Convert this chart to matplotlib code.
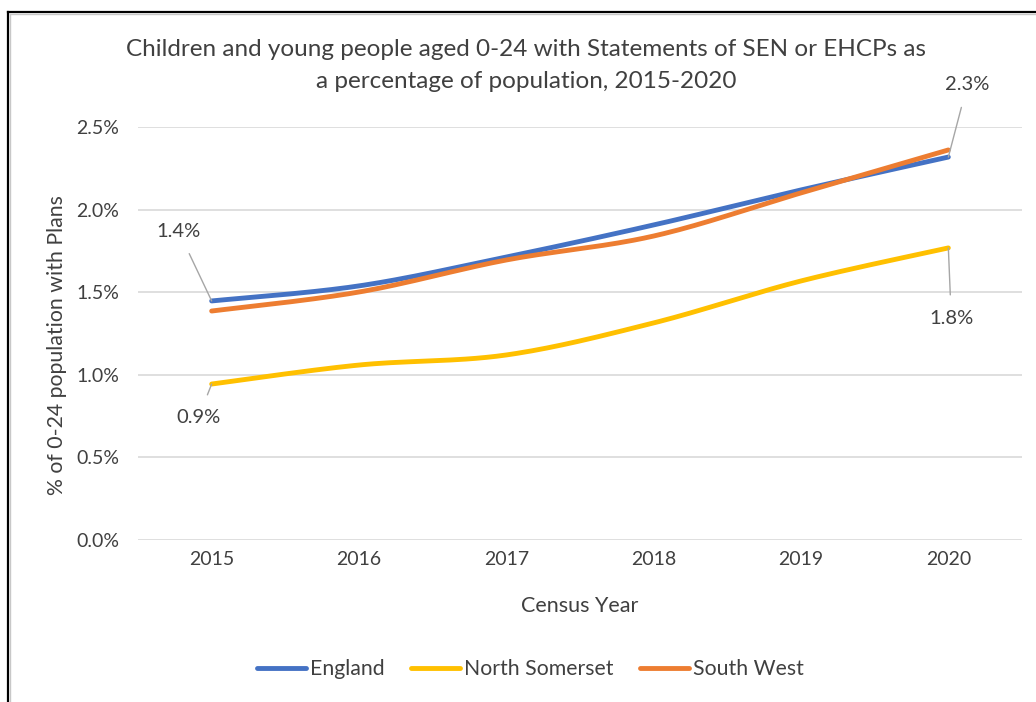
import numpy as np
import matplotlib
matplotlib.use("Agg")
import matplotlib.pyplot as plt
from matplotlib.lines import Line2D

plt.rcParams['font.family'] = ['Lato', 'DejaVu Sans']

years = ['2015', '2016', '2017', '2018', '2019', '2020']
england = [1.447, 1.538, 1.713, 1.907, 2.119, 2.318]
north_somerset = [0.944, 1.059, 1.120, 1.314, 1.568, 1.768]
south_west = [1.386, 1.501, 1.695, 1.840, 2.101, 2.361]
y_ticks = [0.0, 0.5, 1.0, 1.5, 2.0, 2.5]

TEXT = '#404040'


def smooth(xs, ys, n=30):
    """Cardinal (Catmull-Rom) Bezier smoothing like a spreadsheet smoothed line."""
    xs = np.asarray(xs, float)
    ys = np.asarray(ys, float)
    px = np.concatenate([[xs[0]], xs, [xs[-1]]])
    py = np.concatenate([[ys[0]], ys, [ys[-1]]])
    outx, outy = [], []
    t = np.linspace(0, 1, n)
    for i in range(1, len(px) - 2):
        p0 = np.array([px[i - 1], py[i - 1]])
        p1 = np.array([px[i], py[i]])
        p2 = np.array([px[i + 1], py[i + 1]])
        p3 = np.array([px[i + 2], py[i + 2]])
        c1 = p1 + (p2 - p0) / 6.0
        c2 = p2 - (p3 - p1) / 6.0
        b = ((1 - t) ** 3)[:, None] * p1 + (3 * (1 - t) ** 2 * t)[:, None] * c1 \
            + (3 * (1 - t) * t ** 2)[:, None] * c2 + (t ** 3)[:, None] * p2
        outx.extend(b[:, 0])
        outy.extend(b[:, 1])
    return np.array(outx), np.array(outy)


fig = plt.figure(figsize=(10.36, 7.02), dpi=100)
ax = fig.add_axes([0.1332, 0.2308, 0.8533, 0.5883])

x = np.arange(len(years))
series = [('England', england, '#4472C4'),
          ('North Somerset', north_somerset, '#FFC000'),
          ('South West', south_west, '#ED7D31')]
handles = []
for name, vals, col in series:
    sx, sy = smooth(x, vals)
    ln, = ax.plot(sx, sy, color=col, lw=3.5, solid_capstyle='round', label=name, zorder=3)
    handles.append(ln)

ax.set_xlim(-0.5, 5.5)
ax.set_ylim(0, 2.5)
ax.set_yticks(y_ticks)
ax.set_yticklabels([f'{v:.1f}%' for v in y_ticks])
ax.set_xticks(x)
ax.set_xticklabels(years)
ax.tick_params(length=0, labelsize=14, colors=TEXT, pad=8)
ax.tick_params(axis='y', pad=13.5)
ax.grid(axis='y', color='#D9D9D9', lw=1.2)
ax.set_axisbelow(True)
for s in ax.spines.values():
    s.set_visible(False)


def callout(xi, val, tx, ty, text):
    ax.annotate(text, xy=(xi, val), xytext=(tx, ty), textcoords='data',
                ha='center', va='center', fontsize=14.5, color=TEXT,
                arrowprops=dict(arrowstyle='-', color='#A6A6A6', lw=1.0,
                                shrinkA=9, shrinkB=0), zorder=4)


callout(0, england[0], -0.225, 1.87, f'{england[0]:.1f}%')
callout(0, north_somerset[0], -0.09, 0.74, f'{north_somerset[0]:.1f}%')
callout(5, england[5], 5.13, 2.76, f'{england[5]:.1f}%')
callout(5, north_somerset[5], 5.02, 1.34, f'{north_somerset[5]:.1f}%')

fig.text(0.508, 0.929, 'Children and young people aged 0-24 with Statements of SEN or EHCPs as',
         ha='center', va='center', fontsize=17.5, color=TEXT)
fig.text(0.508, 0.884, 'a percentage of population, 2015-2020',
         ha='center', va='center', fontsize=17.5, color=TEXT)
fig.text(0.055, 0.509, '% of 0-24 population with Plans', rotation=90,
         ha='center', va='center', fontsize=15.3, color=TEXT)
fig.text(0.56, 0.137, 'Census Year', ha='center', va='center', fontsize=15.5, color=TEXT)

fig.legend(handles=handles, loc='center', bbox_to_anchor=(0.512, 0.047), ncol=3,
           frameon=False, fontsize=15.3, handlelength=2.3, handletextpad=0.2,
           columnspacing=1.25, labelcolor=TEXT)

# frame on the top and left edges
W, H = 1036, 702
fig.add_artist(Line2D([8 / W, 8 / W], [0, 1 - 12 / H], color='black', lw=1.6,
                      transform=fig.transFigure))
fig.add_artist(Line2D([8 / W, 1], [1 - 12 / H, 1 - 12 / H], color='black', lw=1.6,
                      transform=fig.transFigure))
fig.add_artist(Line2D([10 / W, 10 / W], [0, 1 - 14 / H], color='#C8C8C8', lw=1.0,
                      transform=fig.transFigure))
fig.add_artist(Line2D([10 / W, 1], [1 - 14 / H, 1 - 14 / H], color='#C8C8C8', lw=1.0,
                      transform=fig.transFigure))

fig.savefig('out.png', dpi=100, facecolor='white')
